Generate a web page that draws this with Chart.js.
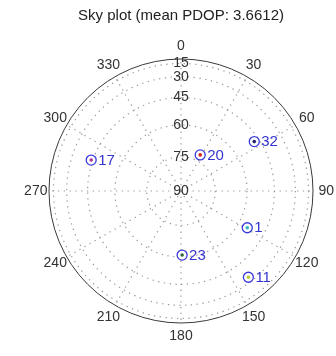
<!DOCTYPE html>
<html>
<head>
<meta charset="utf-8">
<script src="https://cdn.jsdelivr.net/npm/chart.js@4/dist/chart.umd.min.js"></script>
<style>
  html, body { margin: 0; padding: 0; background: #fff; }
  #wrap { position: relative; width: 336px; height: 356px; }
</style>
</head>
<body>
<div id="wrap"><canvas id="sky"></canvas></div>
<script>
const satIds = ['17', '20', '32', '1', '23', '11']
const satAzimuth = [289, 28, 56, 119, 179, 142]
const satElevation = [44, 72, 48, 55, 61, 34]
const satDotColors = ['#a8329c', '#d81e1e', '#1e2470', '#35b4c4', '#2f6b2f', '#b9c936']
const azimuthLabels = ['0', '30', '60', '90', '120', '150', '180', '210', '240', '270', '300', '330']
const elevationTicks = [90, 75, 60, 45, 30, 15, 0]

const RING = '#3b3bdc'
const GRID = '#999'
const DOTS = [1.3, 4.5]
const deg = Math.PI / 180

// radial distance = cos(elevation), one angular slot per degree of azimuth
const slots = Array.from({ length: 360 }, (_, i) => String(i))
function projected() {
  const arr = new Array(360).fill(null)
  satAzimuth.forEach((az, i) => { arr[az] = Math.cos(satElevation[i] * deg) })
  return arr
}

Chart.defaults.font.family = "'Liberation Sans', Arial, sans-serif"

const azLabelPlugin = {
  id: 'azLabels',
  afterDraw(chart) {
    const s = chart.scales.r
    const ctx = chart.ctx
    ctx.save()
    ctx.font = "14px 'Liberation Sans', Arial, sans-serif"
    ctx.fillStyle = '#333'
    ctx.textAlign = 'center'
    ctx.textBaseline = 'middle'
    azimuthLabels.forEach((lbl, i) => {
      const p = s.getPointPosition(i * 30, s.drawingArea * 1.1)
      ctx.fillText(lbl, p.x, p.y)
    })
    // satellite ids next to the rings
    const meta = chart.getDatasetMeta(1)
    ctx.font = "15px 'Liberation Sans', Arial, sans-serif"
    ctx.fillStyle = '#3434cf'
    ctx.textAlign = 'left'
    satAzimuth.forEach((az, i) => {
      const pt = meta.data[az]
      ctx.fillText(satIds[i], pt.x + 7, pt.y + 0.5)
    })
    ctx.restore()
  },
}

new Chart(document.getElementById('sky'), {
  type: 'radar',
  data: {
    labels: slots,
    datasets: [
      {
        label: 'dots',
        data: projected(),
        showLine: false,
        pointRadius: 1.8,
        pointHoverRadius: 1.8,
        pointBorderWidth: 0,
        pointBackgroundColor: ctx => satDotColors[satAzimuth.indexOf(ctx.dataIndex)] || 'transparent',
      },
      {
        label: 'rings',
        data: projected(),
        showLine: false,
        pointRadius: 5,
        pointHoverRadius: 5,
        pointBorderWidth: 1.3,
        pointBorderColor: RING,
        pointBackgroundColor: '#fff',
      },
    ],
  },
  options: {
    responsive: true,
    maintainAspectRatio: false,
    animation: false,
    events: [],
    layout: { padding: { left: 40, right: 14, top: 0, bottom: 24 } },
    plugins: {
      legend: { display: false },
      tooltip: { enabled: false },
      title: {
        display: true,
        text: 'Sky plot (mean PDOP: 3.6612)',
        color: '#222',
        font: { size: 15, weight: 'normal' },
        padding: { top: 7, bottom: 25 },
      },
    },
    scales: {
      r: {
        min: -0.001,
        max: 1,
        afterBuildTicks: scale => {
          scale.ticks = elevationTicks.map(e => ({ value: Math.cos(e * deg) }))
        },
        ticks: {
          callback: (v, i) => elevationTicks[i] === 0 ? '' : String(elevationTicks[i]),
          color: '#333',
          font: { size: 14 },
          showLabelBackdrop: false,
        },
        grid: {
          circular: true,
          color: ctx => ctx.index === elevationTicks.length - 1 ? '#3a3a3a' : GRID,
          lineWidth: ctx => ctx.index === 0 ? 0 : (ctx.index === elevationTicks.length - 1 ? 1 : 1.2),
        },
        border: {
          dash: ctx => ctx.index === elevationTicks.length - 1 ? [] : DOTS,
        },
        angleLines: {
          color: GRID,
          lineWidth: ctx => ctx.index % 30 === 0 ? 1.2 : 0,
          borderDash: DOTS,
        },
        pointLabels: { display: false },
      },
    },
  },
  plugins: [azLabelPlugin],
})
</script>
</body>
</html>
